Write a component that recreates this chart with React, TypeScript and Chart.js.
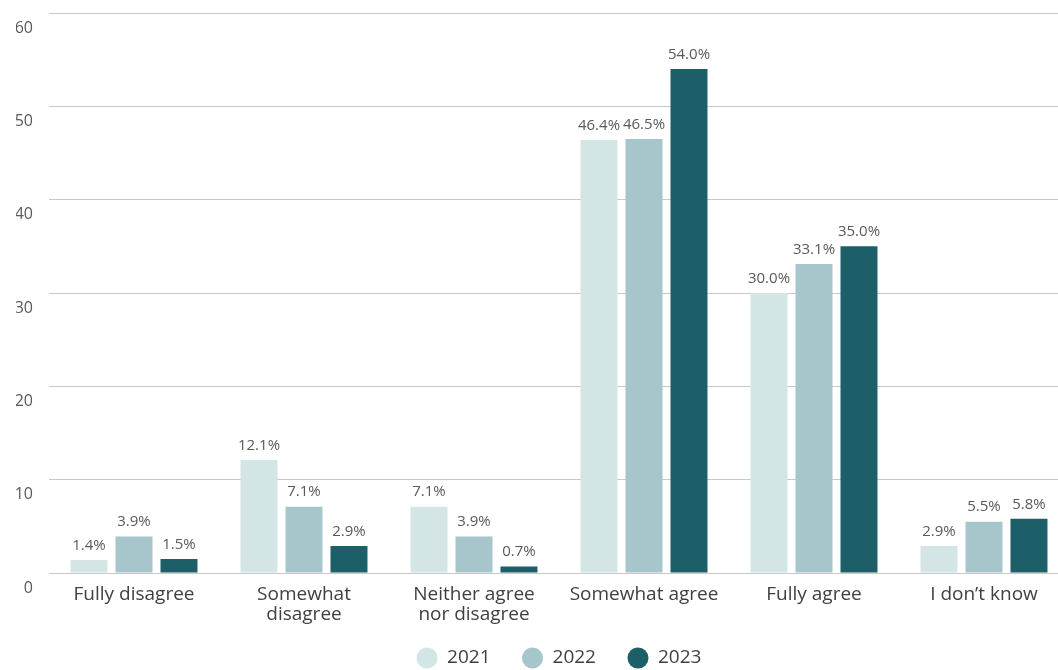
import React, { useEffect, useRef } from "react";
import { Chart, registerables } from "chart.js";

Chart.register(...registerables);

const categories: (string | string[])[] = [
  "Fully disagree",
  ["Somewhat", "disagree"],
  ["Neither agree", "nor disagree"],
  "Somewhat agree",
  "Fully agree",
  "I don\u2019t know",
];

const seriesNames = ["2021", "2022", "2023"];
const values2021 = [1.4, 12.1, 7.1, 46.4, 30.0, 2.9];
const values2022 = [3.9, 7.1, 3.9, 46.5, 33.1, 5.5];
const values2023 = [1.5, 2.9, 0.7, 54.0, 35.0, 5.8];
const seriesColors = ["#d4e5e5", "#a6c6cb", "#1d5f69"];

const FONT = "'Open Sans', 'Noto Sans', sans-serif";

// Writes each bar's value just above it.
const valueLabels = {
  id: "valueLabels",
  afterDatasetsDraw(chart: any) {
    const ctx = chart.ctx;
    ctx.save();
    ctx.font = `15px ${FONT}`;
    ctx.fillStyle = "#595959";
    ctx.textAlign = "center";
    ctx.textBaseline = "bottom";
    chart.data.datasets.forEach((ds: any, i: number) => {
      const meta = chart.getDatasetMeta(i);
      meta.data.forEach((bar: any, j: number) => {
        const v = ds.data[j] as number;
        ctx.fillText(`${v.toFixed(1)}%`, bar.x, bar.y - 7);
      });
    });
    ctx.restore();
  },
};

// The category axis is kept short so the legend sits close beneath it;
// let its two-line labels draw past the box instead of being clipped.
const unclipCategoryLabels = {
  id: "unclipCategoryLabels",
  afterLayout(chart: any) {
    const x = chart.scales.x;
    if (x) x.bottom = chart.height;
  },
};

export default function App() {
  const canvasRef = useRef<HTMLCanvasElement | null>(null);

  useEffect(() => {
    document.body.style.margin = "0";
    const canvas = canvasRef.current;
    if (!canvas) return;
    const series = [values2021, values2022, values2023];
    const chart = new Chart(canvas, {
      type: "bar",
      data: {
        labels: categories,
        datasets: series.map((data, i) => ({
          label: seriesNames[i],
          data,
          backgroundColor: seriesColors[i],
          borderWidth: 0,
          categoryPercentage: 0.794,
          barPercentage: 0.822,
        })),
      },
      options: {
        animation: false,
        responsive: true,
        maintainAspectRatio: false,
        layout: { padding: { top: 13, left: 16, right: 0, bottom: 0 } },
        scales: {
          x: {
            grid: { display: false, drawTicks: false },
            border: { display: false },
            ticks: {
              padding: 12,
              color: "#404040",
              font: { family: FONT, size: 19, lineHeight: 1.05 },
              maxRotation: 0,
              autoSkip: false,
            },
            afterFit(scale: any) {
              scale.height = 44;
              scale.paddingLeft = 0;
              scale.paddingRight = 0;
            },
          },
          y: {
            min: 0,
            max: 60,
            grid: { color: "#c8c8c8", lineWidth: 1, drawTicks: false },
            border: { display: false },
            ticks: {
              stepSize: 10,
              padding: 16,
              labelOffset: 15,
              color: "#595959",
              font: { family: FONT, size: 16 },
            },
            afterFit(scale: any) {
              scale.width = 33;
              scale.paddingTop = 0;
              scale.paddingBottom = 0;
            },
          },
        },
        plugins: {
          legend: {
            position: "bottom",
            fullSize: false,
            maxHeight: 53,
            labels: {
              usePointStyle: true,
              pointStyle: "circle",
              pointStyleWidth: 21,
              boxHeight: 15,
              padding: 31.5,
              color: "#404040",
              font: { family: FONT, size: 19 },
            },
          },
          tooltip: { enabled: false },
        },
      },
      plugins: [valueLabels, unclipCategoryLabels],
    });
    return () => chart.destroy();
  }, []);

  // The plot runs slightly past the right edge of the visible frame.
  return (
    <div style={{ position: "absolute", left: 0, top: 0, width: 1058, height: 670, overflow: "hidden" }}>
      <div style={{ position: "relative", width: 1069, height: 670 }}>
        <canvas ref={canvasRef} />
      </div>
    </div>
  );
}
